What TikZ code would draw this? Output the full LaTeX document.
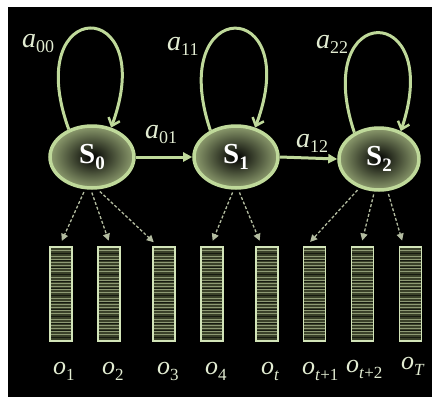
\documentclass[tikz,border=0pt]{standalone}
\usepackage{fontspec}
\setmainfont{Liberation Serif}
\usetikzlibrary{arrows.meta,shapes.geometric}
\definecolor{edge}{HTML}{BFD99A}
\definecolor{txt}{HTML}{E2ECD2}
\definecolor{ring}{HTML}{8D9C6E}
\definecolor{boxfill}{HTML}{3A4129}
\definecolor{stripeA}{HTML}{8E9A74}
\definecolor{stripeB}{HTML}{161A10}
\definecolor{dashc}{HTML}{B3BCA0}
\newcommand\albl[2]{{\fontsize{28bp}{30bp}\selectfont\textit{#1}\raisebox{-0.2em}{\fontsize{18bp}{18bp}\selectfont #2}}}
\newcommand\olbl[1]{{\fontsize{26bp}{28bp}\selectfont\textit{o}\raisebox{-0.24em}{\fontsize{17bp}{17bp}\selectfont #1}}}
\newcommand\slbl[1]{{\fontsize{29bp}{30bp}\selectfont\bfseries S\raisebox{-0.2em}{\fontsize{19bp}{19bp}\selectfont #1}}}
\tikzset{
  state/.style={ellipse, draw=edge, line width=3.5bp, inner color=black, outer color=ring,
    minimum width=84bp, minimum height=62bp, inner sep=0pt, text=white},
  obs/.style={rectangle, draw=edge!70!white, line width=1.3bp, fill=boxfill,
    minimum width=22bp, minimum height=94bp, inner sep=0pt,
    path picture={
      \foreach \k in {1,...,31}{
        \draw[line width=0.7bp, draw=stripeA]
          ([yshift=-\k*3bp]path picture bounding box.north west) --
          ([yshift=-\k*3bp]path picture bounding box.north east);}
      \foreach \k in {1,...,13}{
        \draw[line width=0.9bp, draw=stripeB]
          ([yshift=-\k*7bp+1bp]path picture bounding box.north west) --
          ([yshift=-\k*7bp+1bp]path picture bounding box.north east);}
    }},
  loopar/.style={draw=edge, line width=3bp, -{Straight Barb[length=7bp,width=12bp,line width=2.5bp]}},
  trans/.style={draw=edge, line width=3bp, -{Triangle[length=9bp,width=9bp]}},
  emit/.style={draw=dashc, line width=1.3bp, dash pattern=on 3bp off 2bp,
    -{Triangle[length=7bp,width=7bp]}, shorten <=3bp, shorten >=6bp},
  lbl/.style={text=txt, inner sep=0pt},
}
\begin{document}
\begin{tikzpicture}[x=1bp,y=-1bp]
\useasboundingbox (0,0) rectangle (432,397);
\fill[white] (0,0) rectangle (432,397);
\fill[black] (8,7) rectangle (432,397);

% states
\node[state] (S0) at (92,157) {\slbl{0}};
\node[state] (S1) at (236,157) {\slbl{1}};
\node[state, minimum width=80bp] (S2) at (379,159) {\slbl{2}};

% observation boxes
\node[obs] (b1) at (61,294) {};
\node[obs] (b2) at (109,294) {};
\node[obs] (b3) at (164,294) {};
\node[obs] (b4) at (212,294) {};
\node[obs] (b5) at (267,294) {};
\node[obs] (b6) at (314.5,294) {};
\node[obs] (b7) at (362.5,294) {};
\node[obs] (b8) at (410.5,294) {};

% self loops
\draw[loopar] (S0.130) .. controls (20,-5) and (160,-5) .. (S0.57);
\draw[loopar] (S1.134) .. controls (165,-5) and (305,-5) .. (S1.57);
\draw[loopar] (S2.133) .. controls (310,0) and (445,0) .. (S2.52);

% transitions
\draw[trans] (S0.east) -- (S1.west);
\draw[trans] (S1.east) -- (S2.west);

% emissions
\draw[emit] (S0.258) -- (b1.92);
\draw[emit] (S0.268) -- (b2.88);
\draw[emit] (S0.280) -- (b3.97);
\draw[emit] (S1.266) -- (b4.92);
\draw[emit] (S1.274) -- (b5.96);
\draw[emit] (S2.236) -- (b6.100);
\draw[emit] (S2.262) -- (b7.92);
\draw[emit] (S2.285) -- (b8.98);

% transition labels
\node[lbl, anchor=base west] (a00) at (22,47) {\albl{a}{00}};
\node[lbl, anchor=base west] (a11) at (167,50) {\albl{a}{11}};
\node[lbl, anchor=base west] (a22) at (316,48) {\albl{a}{22}};
\node[lbl, anchor=base west] (a01) at (145,138) {\albl{a}{01}};
\node[lbl, anchor=base west] (a12) at (296,147) {\albl{a}{12}};

% observation labels
\node[lbl, anchor=base west] (o1) at (53,374) {\olbl{1}};
\node[lbl, anchor=base west] (o2) at (102,374) {\olbl{2}};
\node[lbl, anchor=base west] (o3) at (157,374) {\olbl{3}};
\node[lbl, anchor=base west] (o4) at (205,374) {\olbl{4}};
\node[lbl, anchor=base west] (ot) at (261,374) {\olbl{\textit{t}}};
\node[lbl, anchor=base west] (ot1) at (302,374) {\olbl{\textit{t}+1}};
\node[lbl, anchor=base west] (ot2) at (346,372) {\olbl{\textit{t}+2}};
\node[lbl, anchor=base west] (oT) at (401,369) {\olbl{\textit{T}}};
\end{tikzpicture}
\end{document}
